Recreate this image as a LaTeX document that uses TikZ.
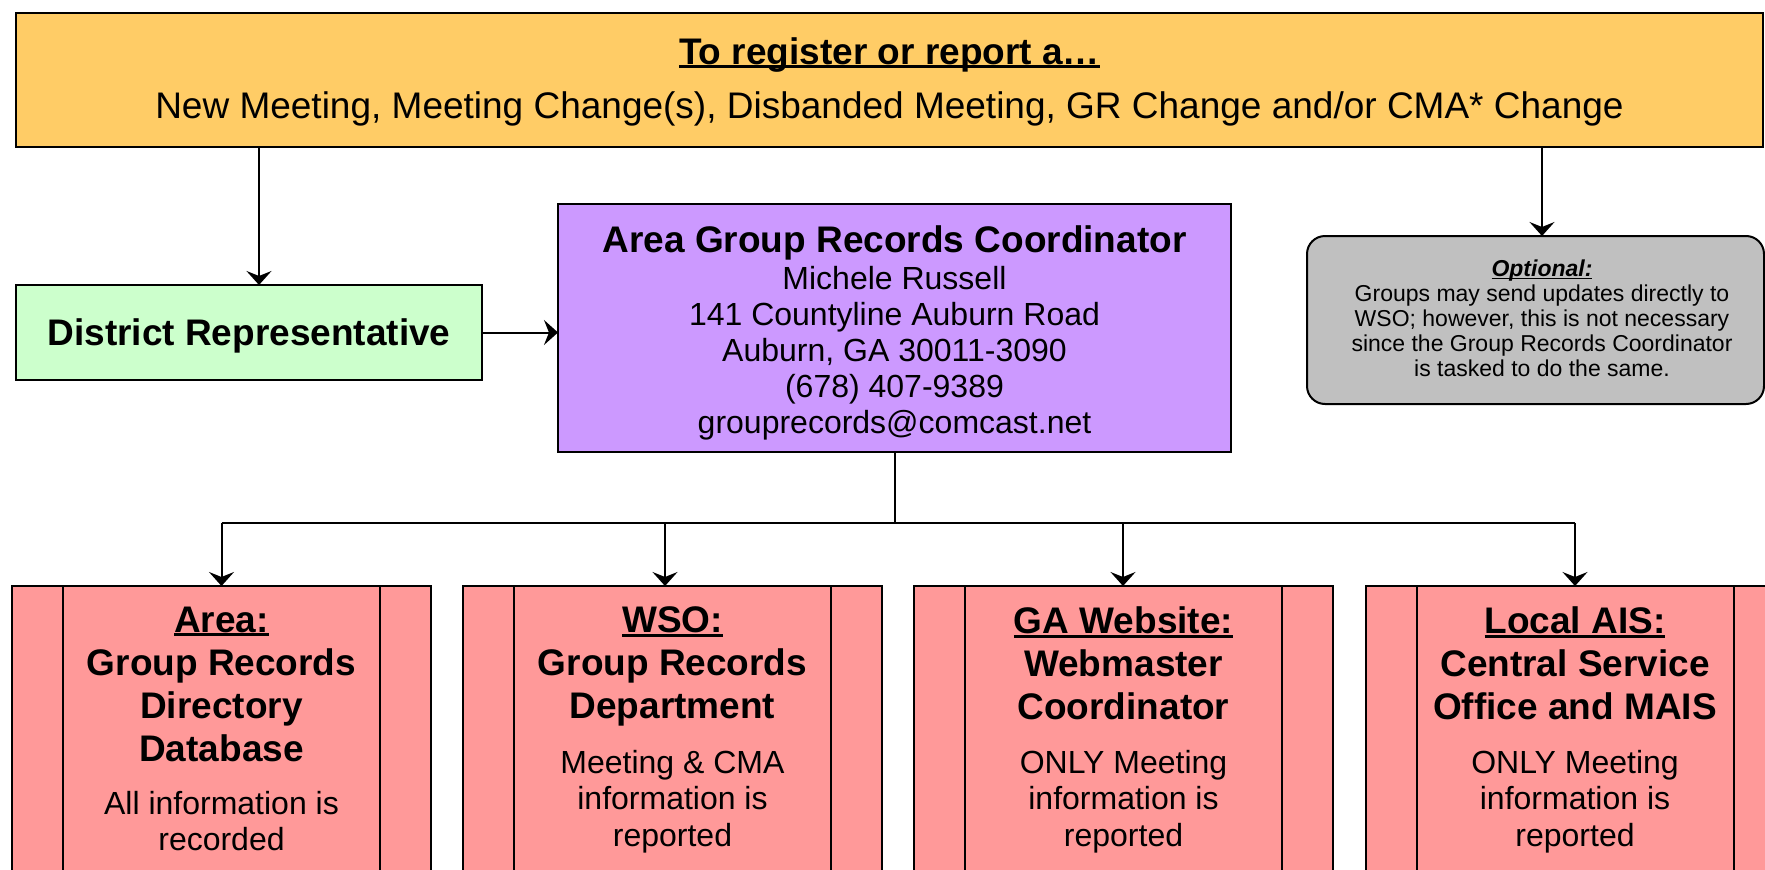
\documentclass[tikz,border=0pt]{standalone}
\usepackage{fontspec}
\setmainfont{Liberation Sans}
\usetikzlibrary{arrows.meta,calc}
\definecolor{topc}{HTML}{FFCC66}
\definecolor{drc}{HTML}{CCFFCC}
\definecolor{purc}{HTML}{CC99FF}
\definecolor{optc}{HTML}{C0C0C0}
\definecolor{redc}{HTML}{FF9999}
\newcommand\myul[1]{\setbox0=\hbox{#1}\rlap{\rule[-0.11em]{\wd0}{0.075em}}\box0}
\newcommand\FBig{\fontsize{37}{43}\selectfont\bfseries}
\newcommand\FReg{\fontsize{32}{36.5}\selectfont}
\newcommand\FPur{\fontsize{32}{36}\selectfont}
\newcommand\FTop{\fontsize{37}{43}\selectfont}
\newcommand\FSml{\fontsize{23}{25}\selectfont}
\tikzset{
  box/.style={draw=black, line width=2pt, inner sep=0pt, outer sep=0pt},
  conn/.style={line width=2pt},
  arr/.style={line width=2pt, -{Stealth[length=14pt,width=25pt,inset=5pt]}},
  txt/.style={inner sep=0pt, align=center},
  redbox/.style={box, fill=redc, minimum width=419pt, minimum height=314pt},
}
\begin{document}
\begin{tikzpicture}[x=1pt,y=-1pt]
\useasboundingbox (0,0) rectangle (1765,870);
\fill[white] (0,0) rectangle (1765,870);
\clip (0,0) rectangle (1765,870);

% top box
\node[box, fill=topc, minimum width=1747pt, minimum height=134pt] (top) at (889.5,80) {};
\node[txt, anchor=base] (t1) at (889.5,64) {\FBig\myul{To register or report a…}};
\node[txt, anchor=base] (t2) at (889.5,118) {\FTop New Meeting, Meeting Change(s), Disbanded Meeting, GR Change and/or CMA* Change};

% district representative
\node[box, fill=drc, minimum width=466pt, minimum height=95pt] (dr) at (249,332.5) {};
\node[txt, anchor=base] (drt) at (249,345) {\FBig District Representative};

% area group records coordinator
\node[box, fill=purc, minimum width=673pt, minimum height=248pt] (pur) at (894.5,328) {};
\node[txt, anchor=base] (purt) at (894.5,252) {\FBig Area Group Records Coordinator};
\node[txt, anchor=north, font=\FPur] (purb) at (894.5,266) {Michele Russell\\141 Countyline Auburn Road\\Auburn, GA 30011-3090\\(678) 407-9389\\grouprecords@comcast.net};

% optional
\node[box, fill=optc, rounded corners=18pt, minimum width=457pt, minimum height=168pt] (opt) at (1535.5,320) {};
\node[txt, anchor=north, font=\FSml] (optt) at (1542,260) {{\bfseries\itshape\myul{Optional:}}\\Groups may send updates directly to\\WSO; however, this is not necessary\\since the Group Records Coordinator\\is tasked to do the same.};

% bottom boxes
\node[redbox] (b1) at (221.5,743) {};
\node[redbox] (b2) at (672.5,743) {};
\node[redbox] (b3) at (1123.5,743) {};
\node[redbox] (b4) at (1575,743) {};
\foreach \b in {b1,b2,b3,b4}{
  \draw[line width=2pt] ([xshift=51pt]\b.north west) -- ([xshift=51pt]\b.south west);
  \draw[line width=2pt] ([xshift=-51pt]\b.north east) -- ([xshift=-51pt]\b.south east);
}
\node[txt, anchor=north, font=\FBig] (b1h) at (221.5,606.5) {\myul{Area:}\\Group Records\\Directory\\Database};
\node[txt, anchor=north, font=\FReg] (b1r) at (221.5,791) {All information is\\recorded};
\node[txt, anchor=north, font=\FBig] (b2h) at (672.5,606.5) {\myul{WSO:}\\Group Records\\Department};
\node[txt, anchor=north, font=\FReg] (b2r) at (672.5,750) {Meeting \& CMA\\information is\\reported};
\node[txt, anchor=north, font=\FBig] (b3h) at (1123.5,606.5) {\myul{GA Website:}\\Webmaster\\Coordinator};
\node[txt, anchor=north, font=\FReg] (b3r) at (1123.5,750) {ONLY Meeting\\information is\\reported};
\node[txt, anchor=north, font=\FBig] (b4h) at (1575,606.5) {\myul{Local AIS:}\\Central Service\\Office and MAIS};
\node[txt, anchor=north, font=\FReg] (b4r) at (1575,750) {ONLY Meeting\\information is\\reported};

% connectors
\coordinate (s1) at (259,147);
\draw[arr] (s1) -- (s1 |- dr.north);
\coordinate (s2) at (1542,147);
\draw[arr] (s2) -- (s2 |- opt.north);
\draw[arr] (dr.east) -- (dr.east -| pur.west);
\coordinate (bus) at (894.5,522.7);
\draw[conn] (pur.south) -- (bus);
\coordinate (x1) at (221.5,522.7);
\coordinate (x2) at (665,522.7);
\coordinate (x3) at (1123,522.7);
\coordinate (x4) at (1575,522.7);
\draw[conn] (x1) -- (x4);
\draw[arr] (x1) -- (x1 |- b1.north);
\draw[arr] (x2) -- (x2 |- b2.north);
\draw[arr] (x3) -- (x3 |- b3.north);
\draw[arr] (x4) -- (x4 |- b4.north);
\end{tikzpicture}
\end{document}
